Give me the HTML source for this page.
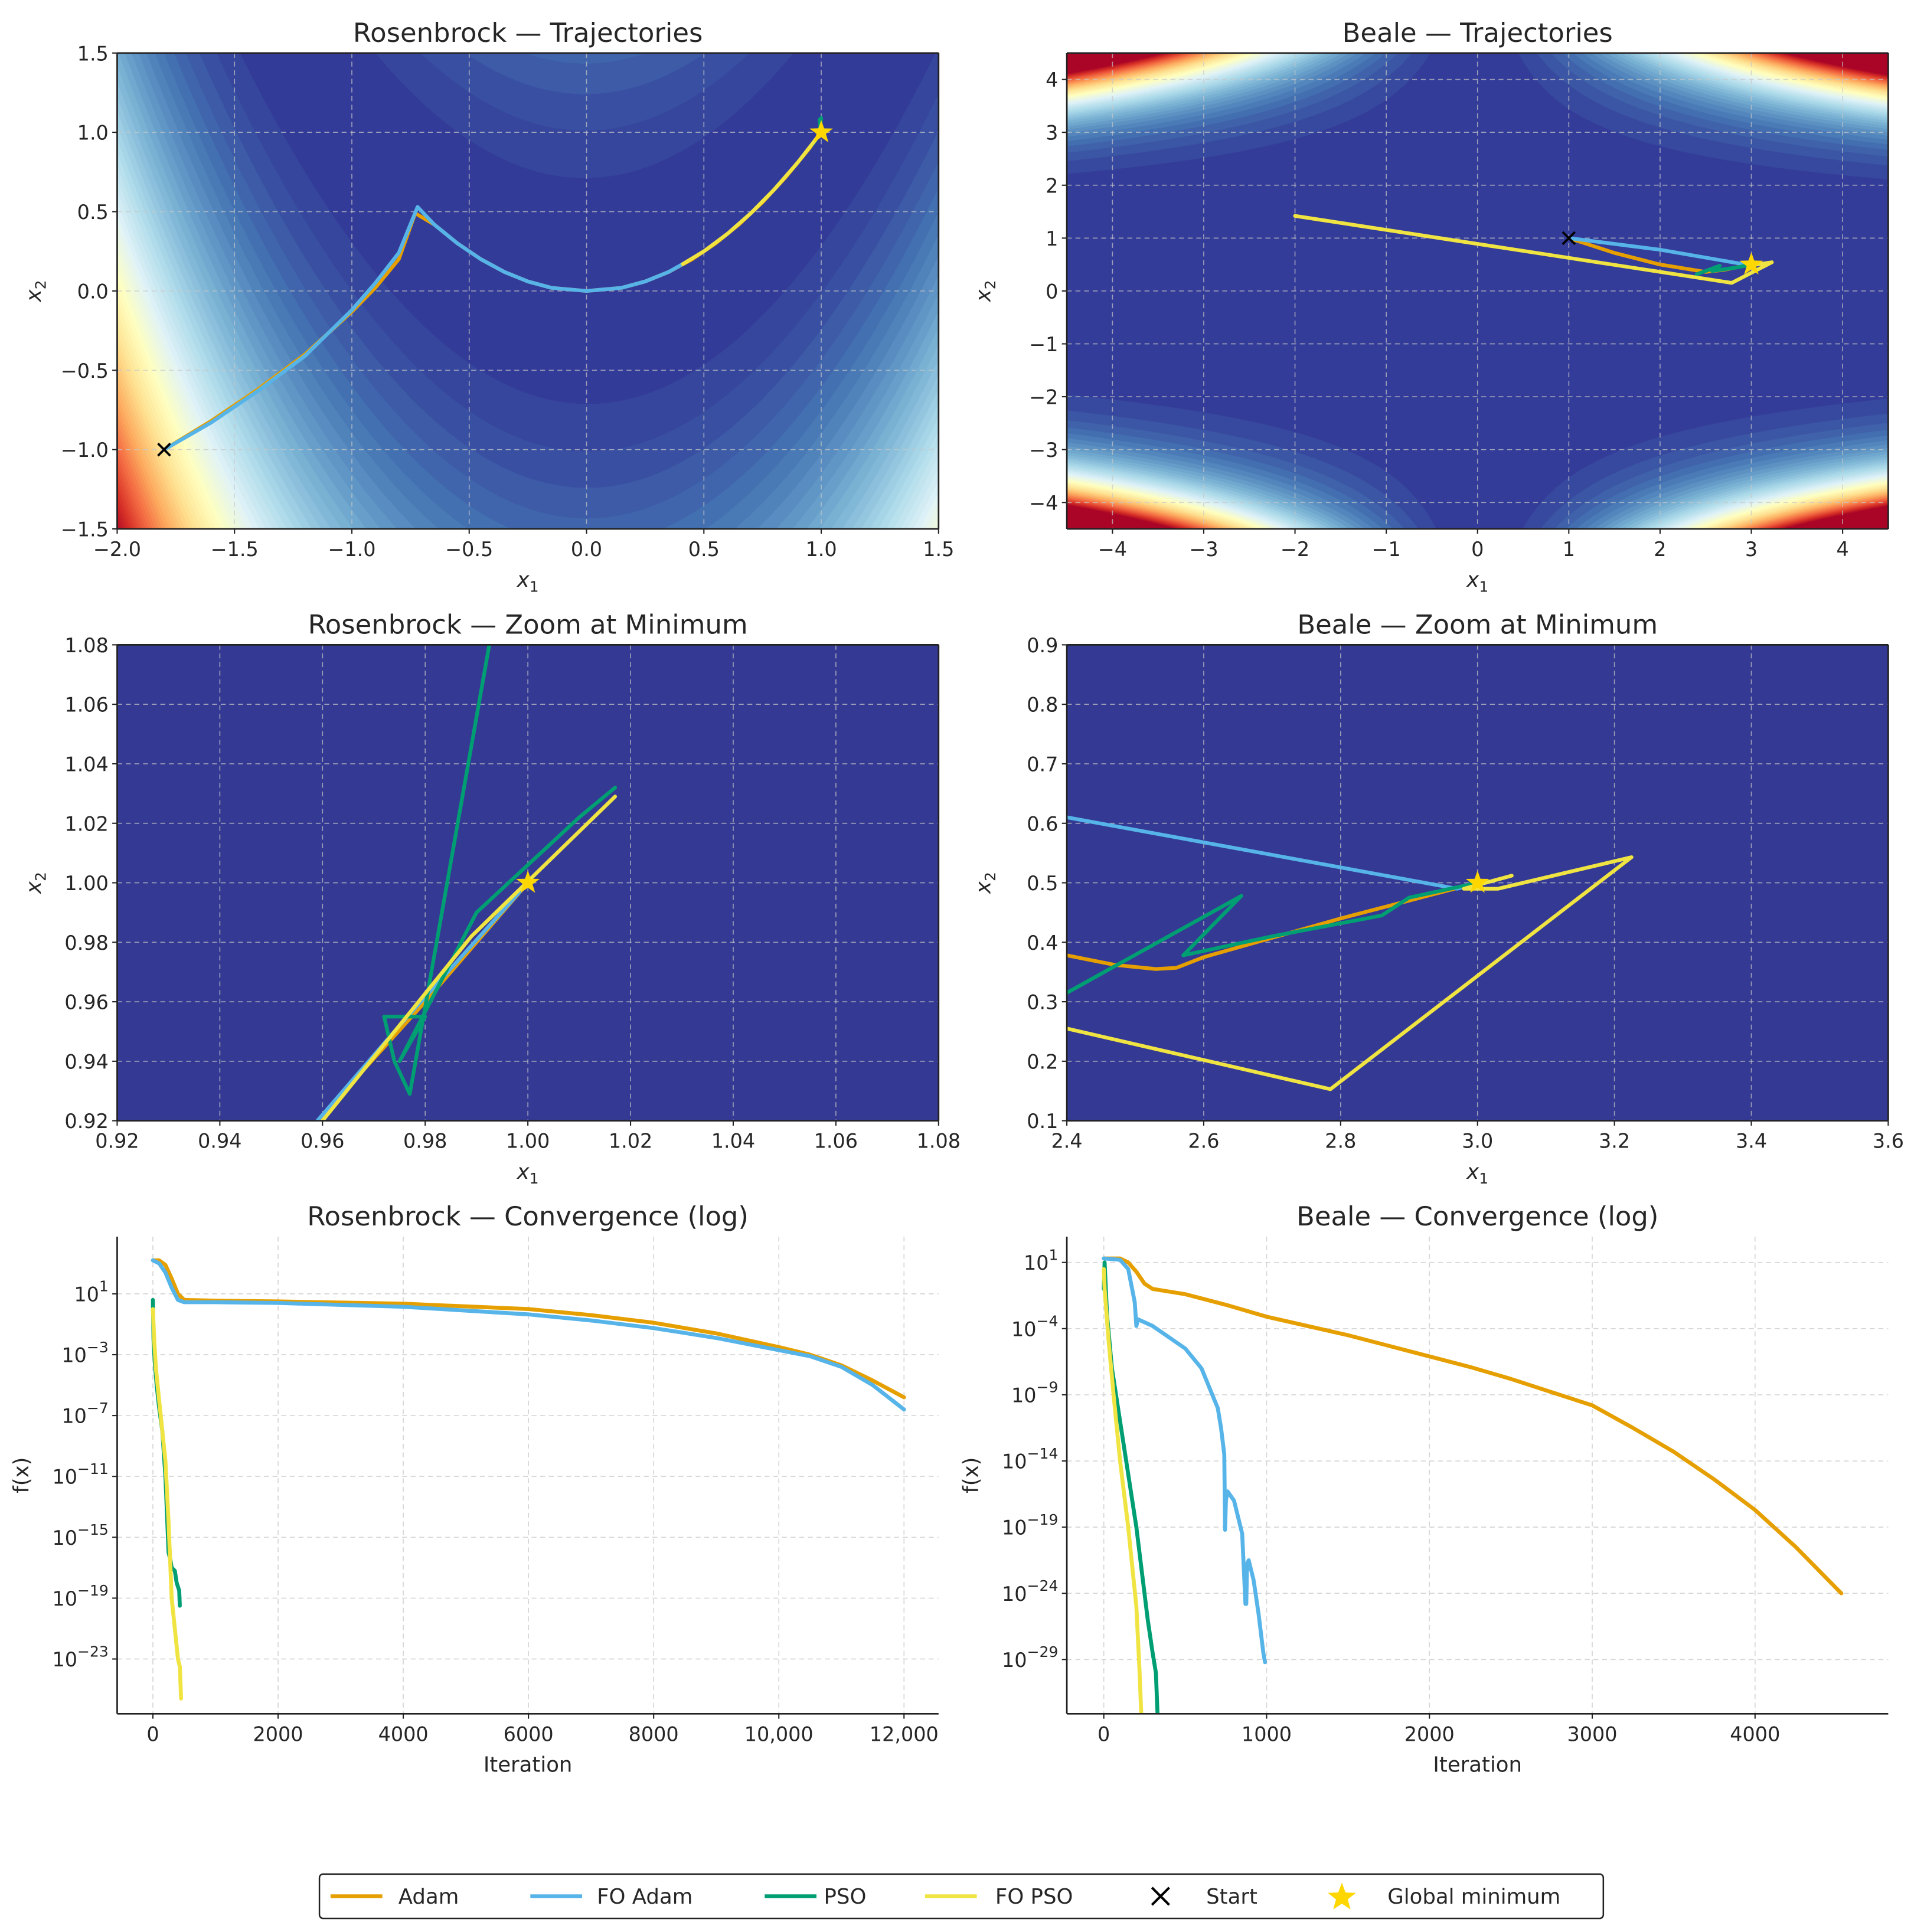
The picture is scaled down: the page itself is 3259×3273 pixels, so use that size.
<!DOCTYPE html>
<html><head><meta charset="utf-8">
<style>
html,body{margin:0;padding:0;background:#fff;}
#wrap{position:relative;width:3259px;height:3273px;overflow:hidden;}
canvas{position:absolute;}
svg{position:absolute;left:0;top:0;}
text{font-family:"DejaVu Sans","Liberation Sans",sans-serif;fill:#262626;}
</style></head>
<body>
<div id="wrap">
<canvas id="c1"></canvas>
<canvas id="c2"></canvas>
<svg id="s" width="3259" height="3273" viewBox="0 0 1560 1567" preserveAspectRatio="none"></svg>
</div>
<script>
// ---- data ----
const rosenAdamX=[-1.8,-1.6,-1.4,-1.2,-1.0,-0.9,-0.8,-0.73,-0.65,-0.55,-0.45,-0.35,-0.25,-0.15,0,0.15,0.25,0.35,0.45,0.55,0.65,0.75,0.85,0.95,1.0];
const rosenAdamY=[-1.0,-0.82,-0.62,-0.4,-0.13,0.02,0.2,0.49,0.42,0.3,0.2,0.12,0.06,0.02,0,0.02,0.06,0.12,0.2,0.3,0.42,0.56,0.72,0.9,1.0];
const rosenFoAdamX=[-1.8,-1.6,-1.4,-1.2,-1.0,-0.9,-0.8,-0.72,-0.65,-0.55,-0.45,-0.35,-0.25,-0.15,0,0.15,0.25,0.35,0.41];
const rosenFoAdamY=[-1.0,-0.83,-0.63,-0.41,-0.12,0.05,0.24,0.53,0.42,0.3,0.2,0.12,0.06,0.02,0,0.02,0.06,0.12,0.17];
const rosenPsoX=[0.96,0.99,1.0,0.993,1.0];
const rosenPsoY=[0.92,0.98,1.09,1.08,1.0];
const rosenFoPsoX=[0.41,0.5,0.6,0.7,0.8,0.9,1.0];
const rosenFoPsoY=[0.17,0.25,0.36,0.49,0.64,0.81,1.0];

const bealeAdamX=[1.0,1.5,2.0,2.5,2.7,3.0];
const bealeAdamY=[1.0,0.72,0.5,0.36,0.4,0.5];
const bealeFoAdamX=[1.0,2.0,2.97,3.0];
const bealeFoAdamY=[1.0,0.78,0.49,0.5];
const bealePsoX=[2.4,2.655,2.57,2.86,3.0];
const bealePsoY=[0.315,0.478,0.378,0.45,0.5];
const bealeFoPsoX=[-2.0,2.4,2.785,3.225,3.02,3.05];
const bealeFoPsoY=[1.42,0.255,0.153,0.543,0.49,0.51];

const zrAdamX=[0.958,0.98,1.0];
const zrAdamY=[0.918,0.96,1.0];
const zrFoAdamX=[0.958,0.975,1.0];
const zrFoAdamY=[0.918,0.952,1.0];
const zrPsoX=[0.993,0.977,0.974,0.972,0.98,0.975,0.99,1.01,1.017];
const zrPsoY=[1.085,0.929,0.94,0.955,0.955,0.94,0.99,1.022,1.032];
const zrFoPsoX=[0.96,0.989,1.017];
const zrFoPsoY=[0.92,0.982,1.029];

const zbAdamX=[2.4,2.47,2.53,2.56,2.6,2.8,3.0];
const zbAdamY=[0.378,0.362,0.355,0.357,0.375,0.44,0.5];
const zbFoAdamX=[2.4,2.97,3.0];
const zbFoAdamY=[0.61,0.49,0.5];
const zbPsoX=[2.4,2.655,2.57,2.7,2.86,2.9,2.96,3.0];
const zbPsoY=[0.315,0.478,0.378,0.41,0.445,0.475,0.49,0.5];
const zbFoPsoX=[2.4,2.785,3.225,3.03,2.98,3.05];
const zbFoPsoY=[0.255,0.153,0.543,0.49,0.49,0.512];

const crAdamX=[0,100,200,300,400,500,1000,2000,4000,6000,7000,8000,9000,10000,10500,11000,11500,12000];
const crAdamY=[3.2,3.2,2.9,2.0,1.0,0.6,0.55,0.5,0.35,0.0,-0.4,-0.9,-1.6,-2.5,-3.0,-3.7,-4.7,-5.8];
const crFoAdamX=[0,100,200,300,400,500,1000,2000,4000,6000,7000,8000,9000,10000,10500,11000,11500,12000];
const crFoAdamY=[3.2,3.0,2.4,1.4,0.6,0.45,0.45,0.4,0.15,-0.35,-0.75,-1.25,-1.9,-2.7,-3.1,-3.8,-5.0,-6.6];
const crPsoX=[0,1,10,30,60,100,150,200,230,250,280,300,350,380,420,430];
const crPsoY=[0.6,0.2,-2,-3.5,-5,-6.5,-8,-11,-14,-16,-16.5,-17,-17.2,-18,-18.5,-19.5];
const crFoPsoX=[0,20,50,100,150,200,250,300,350,400,430,450];
const crFoPsoY=[0,-2,-4,-6,-8,-10,-14,-19,-21,-23,-23.5,-25.6];

const cbAdamX=[0,100,150,200,250,300,500,750,1000,1250,1500,1750,2000,2250,2500,2750,3000,3250,3500,3750,4000,4250,4530];
const cbAdamY=[1.3,1.3,1.0,0.3,-0.6,-1.0,-1.4,-2.2,-3.1,-3.8,-4.5,-5.3,-6.1,-6.9,-7.8,-8.8,-9.8,-11.5,-13.3,-15.4,-17.7,-20.5,-24.0];
const cbFoAdamX=[0,100,150,190,200,210,300,500,600,700,720,740,745,750,760,800,850,870,875,880,890,920,950,980,990];
const cbFoAdamY=[1.3,1.2,0.5,-2,-3.8,-3.3,-3.8,-5.5,-7,-10,-11.5,-13.5,-19.2,-17,-16.3,-17,-19.5,-24.8,-24.8,-21.8,-21.5,-23,-25.5,-28.5,-29.2];
const cbPsoX=[0,5,20,50,100,150,200,250,270,300,320,330];
const cbPsoY=[-1,1,-3,-7,-11,-15,-19,-24,-26,-28.5,-30,-33.1];
const cbFoPsoX=[0,5,30,60,100,150,200,220,230];
const cbFoPsoY=[0.5,-1,-5,-9,-14,-19,-25,-30,-33.1];

const trajTicksRX=[-2.0,-1.5,-1.0,-0.5,0.0,0.5,1.0,1.5];
const trajTicksRY=[-1.5,-1.0,-0.5,0.0,0.5,1.0,1.5];
const trajTicksB=[-4,-3,-2,-1,0,1,2,3,4];
const zoomTicksR=[0.92,0.94,0.96,0.98,1.00,1.02,1.04,1.06,1.08];
const zoomTicksBX=[2.4,2.6,2.8,3.0,3.2,3.4,3.6];
const zoomTicksBY=[0.1,0.2,0.3,0.4,0.5,0.6,0.7,0.8,0.9];
const convTicksRX=[0,2000,4000,6000,8000,10000,12000];
const convTicksRXL=["0","2000","4000","6000","8000","10,000","12,000"];
const convTicksRY=[1,-3,-7,-11,-15,-19,-23];
const convTicksBX=[0,1000,2000,3000,4000];
const convTicksBY=[1,-4,-9,-14,-19,-24,-29];

const COL={adam:'#E69F00',foadam:'#56B4E9',pso:'#009E73',fopso:'#F0E442'};
const SX=3259/1560, SY=3273/1567;
const NS='http://www.w3.org/2000/svg';
const svg=document.getElementById('s');
function mk(tag,attrs,parent){const e=document.createElementNS(NS,tag);for(const k in attrs)e.setAttribute(k,attrs[k]);(parent||svg).appendChild(e);return e;}
function fmt(v,d){return (v<0?'\u2212':'')+Math.abs(v).toFixed(d);}

function makeAxes(cfg){
  const g=mk('g',{});
  
  
  const sx=v=>cfg.x0+(v-cfg.xl[0])/(cfg.xl[1]-cfg.xl[0])*cfg.w;
  const sy=v=>cfg.y0+cfg.h-(v-cfg.yl[0])/(cfg.yl[1]-cfg.yl[0])*cfg.h;
  const cid='clip-'+cfg.name;
  const cp=mk('clipPath',{id:cid},g);
  mk('rect',{x:cfg.x0,y:cfg.y0,width:cfg.w,height:cfg.h},cp);
  if(cfg.bg){const r=mk('rect',{x:cfg.x0,y:cfg.y0,width:cfg.w,height:cfg.h,fill:cfg.bg},g);
    
    }
  const gc=cfg.dark?'rgba(200,200,200,0.7)':'#d6d6d6';
  cfg.xt.forEach((t,i)=>{const X=sx(t);
    const l=mk('line',{x1:X,x2:X,y1:cfg.y0,y2:cfg.y0+cfg.h,stroke:gc,'stroke-width':0.8,'stroke-dasharray':'4 3'},g);
    
    
    mk('line',{x1:X,x2:X,y1:cfg.y0+cfg.h,y2:cfg.y0+cfg.h+4,stroke:'#222','stroke-width':1},g);
    const tx=mk('text',{x:X,y:cfg.y0+cfg.h+22,'text-anchor':'middle','font-size':16},g);
    tx.textContent=cfg.xtl?cfg.xtl[i]:fmt(t,cfg.xd);
    
    });
  cfg.yt.forEach(t=>{const Y=sy(t);
    const l=mk('line',{x1:cfg.x0,x2:cfg.x0+cfg.w,y1:Y,y2:Y,stroke:gc,'stroke-width':0.8,'stroke-dasharray':'4 3'},g);
    
    
    mk('line',{x1:cfg.x0-4,x2:cfg.x0,y1:Y,y2:Y,stroke:'#222','stroke-width':1},g);
    const tx=mk('text',{x:cfg.x0-7,y:Y+6,'text-anchor':'end','font-size':16},g);
    if(cfg.log){tx.textContent='10';const sp=mk('tspan',{dy:-8,'font-size':12},tx);sp.textContent=(t<0?'\u2212':'')+Math.abs(t);}
    else tx.textContent=fmt(t,cfg.yd);
    
    });
  const series=[[cfg.s[0],'adam','adam-line'],[cfg.s[1],'foadam','fo-adam-line'],[cfg.s[2],'pso','pso-line'],[cfg.s[3],'fopso','fo-pso-line']];
  const lg=mk('g',{'clip-path':'url(#'+cid+')'},g);
  series.forEach(([d,k,n])=>{
    const pts=d[0].map((x,i)=>sx(x).toFixed(2)+','+sy(d[1][i]).toFixed(2)).join(' ');
    const p=mk('polyline',{points:pts,fill:'none',stroke:COL[k],'stroke-width':cfg.lw||3,'stroke-linejoin':'round','stroke-linecap':'round'},lg);
    
    });
  if(cfg.start){const X=sx(cfg.start[0]),Y=sy(cfg.start[1]);
    const m=mk('path',{d:`M${X-5},${Y-5}L${X+5},${Y+5}M${X-5},${Y+5}L${X+5},${Y-5}`,stroke:'#000','stroke-width':1.8},lg);
    
    }
  if(cfg.star){const X=sx(cfg.star[0]),Y=sy(cfg.star[1]);
    let d='';for(let i=0;i<10;i++){const r=i%2?4:10,a=-Math.PI/2+i*Math.PI/5;d+=(i?'L':'M')+(X+r*Math.cos(a)).toFixed(2)+','+(Y+r*Math.sin(a)).toFixed(2);}
    const m=mk('path',{d:d+'Z',fill:'#FFD700'},lg);
    
    }
  const sp=[['bottom',cfg.x0,cfg.y0+cfg.h,cfg.x0+cfg.w,cfg.y0+cfg.h],['left',cfg.x0,cfg.y0,cfg.x0,cfg.y0+cfg.h]];
  if(cfg.box){sp.push(['top',cfg.x0,cfg.y0,cfg.x0+cfg.w,cfg.y0],['right',cfg.x0+cfg.w,cfg.y0,cfg.x0+cfg.w,cfg.y0+cfg.h]);}
  sp.forEach(s=>{const l=mk('line',{x1:s[1],y1:s[2],x2:s[3],y2:s[4],stroke:'#222','stroke-width':1.3},g);
    
    });
  const t=mk('text',{x:cfg.x0+cfg.w/2,y:cfg.y0-9,'text-anchor':'middle','font-size':21.5},g);
  t.textContent=cfg.title;
  
  
  const xl=mk('text',{x:cfg.x0+cfg.w/2,y:cfg.y0+cfg.h+47,'text-anchor':'middle','font-size':17},g);
  if(cfg.log){xl.textContent='Iteration';}
  else{const a=mk('tspan',{'font-style':'italic'},xl);a.textContent='x';const b=mk('tspan',{dy:4,'font-size':12},xl);b.textContent='1';}
  
  
  const yx=cfg.log?cfg.x0-72:cfg.x0-62, yy=cfg.y0+cfg.h/2;
  const yl=mk('text',{x:yx,y:yy,'text-anchor':'middle','font-size':17,transform:`rotate(-90 ${yx} ${yy})`},g);
  if(cfg.log){yl.textContent='f(x)';}
  else{const a=mk('tspan',{'font-style':'italic'},yl);a.textContent='x';const b=mk('tspan',{dy:4,'font-size':12},yl);b.textContent='2';}
  
  
}

// ---- contour canvases ----
const cmapStops=[[0,[49,54,149]],[0.1,[69,117,180]],[0.2,[116,173,209]],[0.3,[171,217,233]],[0.4,[224,243,248]],[0.5,[255,255,191]],[0.6,[254,224,144]],[0.7,[253,174,97]],[0.8,[244,109,67]],[0.9,[215,48,39]],[1,[165,0,38]]];
function cmap(t){t=Math.max(0,Math.min(1,t));for(let i=1;i<cmapStops.length;i++){if(t<=cmapStops[i][0]){const a=cmapStops[i-1],b=cmapStops[i],u=(t-a[0])/(b[0]-a[0]);return a[1].map((c,j)=>c+(b[1][j]-c)*u);}}return cmapStops[10][1];}
function contour(id,x0,y0,w,h,xl,yl,f,N,vmax){
  const c=document.getElementById(id);
  const W=Math.round(w*SX),H=Math.round(h*SY);
  c.width=W;c.height=H;c.style.left=(x0*SX)+'px';c.style.top=(y0*SY)+'px';c.style.width=W+'px';c.style.height=H+'px';
  const ctx=c.getContext('2d');const img=ctx.createImageData(W,H);
  for(let j=0;j<H;j++)for(let i=0;i<W;i++){const x=xl[0]+(i+0.5)/W*(xl[1]-xl[0]),y=yl[1]-(j+0.5)/H*(yl[1]-yl[0]);
    const v=f(x,y);const lev=Math.min(N-1,Math.floor(v/vmax*N));const col=cmap((lev+0.5)/N);const k=j*W+i;
    img.data[k*4]=col[0];img.data[k*4+1]=col[1];img.data[k*4+2]=col[2];img.data[k*4+3]=255;}
  ctx.putImageData(img,0,0);
}
contour('c1',95,43,666,386,[-2,1.5],[-1.5,1.5],(x,y)=>(1-x)*(1-x)+100*(y-x*x)*(y-x*x),60,3100);
contour('c2',865,43,666,386,[-4.5,4.5],[-4.5,4.5],(x,y)=>{const a=1.5-x+x*y,b=2.25-x+x*y*y,c=2.625-x+x*y*y*y;return a*a+b*b+c*c;},50,100000);

makeAxes({name:'rosenbrock-trajectories',x0:95,y0:43,w:666,h:386,xl:[-2,1.5],yl:[-1.5,1.5],xt:trajTicksRX,yt:trajTicksRY,xd:1,yd:1,box:true,dark:true,
  title:'Rosenbrock \u2014 Trajectories',s:[[rosenAdamX,rosenAdamY],[rosenFoAdamX,rosenFoAdamY],[rosenPsoX,rosenPsoY],[rosenFoPsoX,rosenFoPsoY]],start:[-1.8,-1],star:[1,1]});
makeAxes({name:'beale-trajectories',x0:865,y0:43,w:666,h:386,xl:[-4.5,4.5],yl:[-4.5,4.5],xt:trajTicksB,yt:trajTicksB,xd:0,yd:0,box:true,dark:true,
  title:'Beale \u2014 Trajectories',s:[[bealeAdamX,bealeAdamY],[bealeFoAdamX,bealeFoAdamY],[bealePsoX,bealePsoY],[bealeFoPsoX,bealeFoPsoY]],start:[1,1],star:[3,0.5]});
makeAxes({name:'rosenbrock-zoom',x0:95,y0:523,w:666,h:386,xl:[0.92,1.08],yl:[0.92,1.08],xt:zoomTicksR,yt:zoomTicksR,xd:2,yd:2,box:true,dark:true,bg:'#343a93',
  title:'Rosenbrock \u2014 Zoom at Minimum',s:[[zrAdamX,zrAdamY],[zrFoAdamX,zrFoAdamY],[zrPsoX,zrPsoY],[zrFoPsoX,zrFoPsoY]],star:[1,1]});
makeAxes({name:'beale-zoom',x0:865,y0:523,w:666,h:386,xl:[2.4,3.6],yl:[0.1,0.9],xt:zoomTicksBX,yt:zoomTicksBY,xd:1,yd:1,box:true,dark:true,bg:'#343a93',
  title:'Beale \u2014 Zoom at Minimum',s:[[zbAdamX,zbAdamY],[zbFoAdamX,zbFoAdamY],[zbPsoX,zbPsoY],[zbFoPsoX,zbFoPsoY]],star:[3,0.5]});
makeAxes({name:'rosenbrock-convergence',x0:95,y0:1003,w:666,h:387,xl:[-571,12552],yl:[-26.6,4.76],xt:convTicksRX,xtl:convTicksRXL,yt:convTicksRY,log:true,lw:3.2,
  title:'Rosenbrock \u2014 Convergence (log)',s:[[crAdamX,crAdamY],[crFoAdamX,crFoAdamY],[crPsoX,crPsoY],[crFoPsoX,crFoPsoY]]});
makeAxes({name:'beale-convergence',x0:865,y0:1003,w:666,h:387,xl:[-227,4818],yl:[-33.1,2.95],xt:convTicksBX,xtl:convTicksBX.map(String),yt:convTicksBY,log:true,lw:3.2,
  title:'Beale \u2014 Convergence (log)',s:[[cbAdamX,cbAdamY],[cbFoAdamX,cbFoAdamY],[cbPsoX,cbPsoY],[cbFoPsoX,cbFoPsoY]]});

// ---- legend ----
const lg=mk('g',{});


mk('rect',{x:259,y:1520,width:1041,height:36,rx:3,fill:'#fff',stroke:'#222','stroke-width':1.2},lg);
const entries=[['adam','Adam',268,323],['foadam','FO Adam',430,484],['pso','PSO',620,668],['fopso','FO PSO',750,807]];
entries.forEach(e=>{
  const g=mk('g',{},lg);
  
  
  mk('line',{x1:e[2],x2:e[2]+42,y1:1538,y2:1538,stroke:COL[e[0]],'stroke-width':3},g);
  const t=mk('text',{x:e[3],y:1544,'font-size':17},g);t.textContent=e[1];});
const gs=mk('g',{},lg);


mk('path',{d:'M934,1531L948,1545M934,1545L948,1531',stroke:'#000','stroke-width':2},gs);
const ts=mk('text',{x:978,y:1544,'font-size':17},gs);ts.textContent='Start';
const gm=mk('g',{},lg);


let sd='';for(let i=0;i<10;i++){const r=i%2?5:12,a=-Math.PI/2+i*Math.PI/5;sd+=(i?'L':'M')+(1088+r*Math.cos(a)).toFixed(2)+','+(1539+r*Math.sin(a)).toFixed(2);}
mk('path',{d:sd+'Z',fill:'#FFD700'},gm);
const tm=mk('text',{x:1125,y:1544,'font-size':17},gm);tm.textContent='Global minimum';
</script>
</body></html>
